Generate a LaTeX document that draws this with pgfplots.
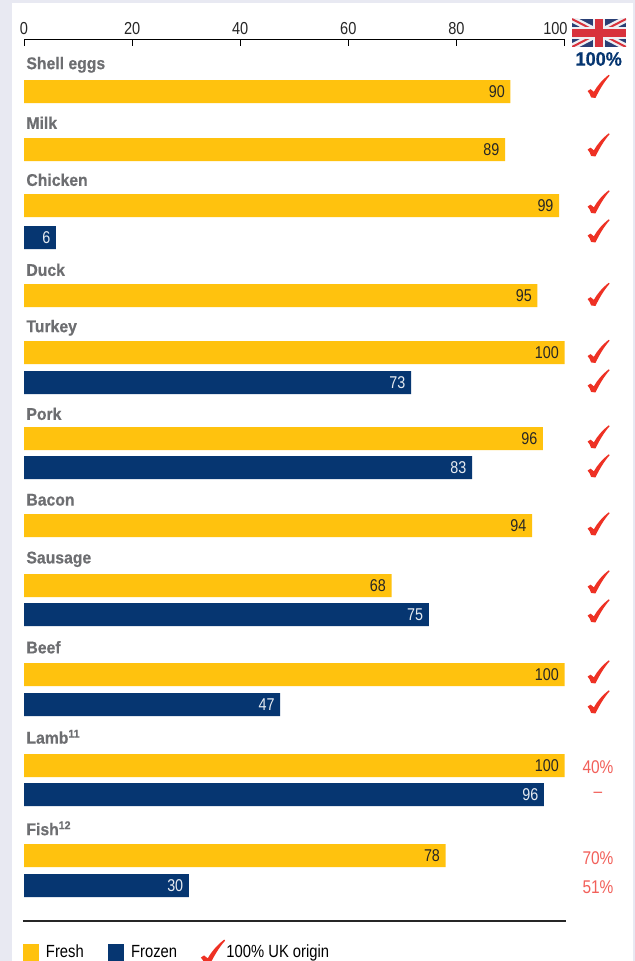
\documentclass[border=0pt]{standalone}
\usepackage{pgfplots}
\usepackage{pgfplotstable}
\usepackage{fontspec}
\pgfplotsset{compat=1.18}
\setmainfont[FakeStretch=0.84]{Liberation Sans}
\newfontfamily\catf[FakeStretch=0.93,BoldFeatures={FakeBold=0.5}]{Liberation Sans}
\definecolor{ukyellow}{HTML}{FFC20E}
\definecolor{ukblue}{HTML}{063671}
\definecolor{ukred}{HTML}{EE3124}
\definecolor{pctred}{HTML}{F2605A}
\definecolor{catgray}{HTML}{6D6E71}
\definecolor{pagebg}{HTML}{E8E9F2}
\definecolor{flagred}{HTML}{D8323C}
\definecolor{flagblue}{HTML}{2A3F75}
\pgfdeclareplotmark{ukcheck}{%
  \pgfpathmoveto{\pgfqpoint{-7.8pt}{-3.4pt}}%
  \pgfpathlineto{\pgfqpoint{-5.6pt}{-2pt}}%
  \pgfpathlineto{\pgfqpoint{-3.1pt}{-4.0pt}}%
  \pgfpathcurveto{\pgfqpoint{-0.6pt}{0.6pt}}{\pgfqpoint{3.2pt}{5pt}}{\pgfqpoint{8.1pt}{8.8pt}}%
  \pgfpathlineto{\pgfqpoint{8.7pt}{8.1pt}}%
  \pgfpathcurveto{\pgfqpoint{4.6pt}{3.5pt}}{\pgfqpoint{1pt}{-2.6pt}}{\pgfqpoint{-1.9pt}{-8.6pt}}%
  \pgfpathlineto{\pgfqpoint{-5.2pt}{-8.2pt}}%
  \pgfpathcurveto{\pgfqpoint{-5.8pt}{-6.2pt}}{\pgfqpoint{-6.6pt}{-4.6pt}}{\pgfqpoint{-7.8pt}{-3.4pt}}%
  \pgfpathclose\pgfusepathqfill}
\pgfplotstableread{
value y
90 91.5
89 149.5
99 205.5
95 295.5
100 352.5
96 438.5
94 525.5
68 585.5
100 674.5
100 765.5
78 855.5
}\freshdata
\pgfplotstableread{
value len y
6 5.9 237.5
73 71.6 382.5
83 82.9 467.5
75 74.9 614.5
47 47.4 704.5
96 96.2 794.5
30 30.5 885.5
}\frozendata
\newcommand{\catlabel}[2]{\node[anchor=west,inner sep=0pt,text=catgray,font=\catf\bfseries\fontsize{12.7}{14}\selectfont] at (axis cs:0.4,#2) {#1};}
\newcommand{\pctlabel}[2]{\node[inner sep=0pt,text=pctred,font=\fontsize{13.8}{15}\selectfont] at (axis cs:106.2,#2) {#1};}
\newcommand{\sps}[1]{\raisebox{4.5pt}{\fontsize{8.5}{9}\selectfont #1}}
\begin{document}
\begin{tikzpicture}[x=0.75pt,y=0.75pt]
\fill[pagebg] (0,0) rectangle (635,961);
\fill[white] (12,0) rectangle (633,958);
\begin{axis}[
  at={(18pt,691.125pt)},anchor=north west,
  scale only axis,width=405.375pt,height=661.125pt,
  xmin=0,xmax=100,ymin=39.5,ymax=921,y dir=reverse,
  clip=false,
  axis x line=top,axis y line=none,
  axis line style={-,black,line width=0.75pt},
  xtick={0,20,40,60,80},
  extra x ticks={100},
  extra x tick style={xticklabel style={xshift=-6.8pt}},
  tick align=inside,
  major tick length=5pt,
  tick style={black,line width=0.6pt},
  xticklabel style={font=\fontsize{13}{14}\selectfont,text=black!85},
  /pgf/number format/assume math mode=true,
  xbar,bar width=17.25pt,bar shift=0pt,
  nodes near coords,
  nodes near coords style={font=\fontsize{12.8}{14}\selectfont,anchor=east,xshift=-0.7pt,/pgf/number format/assume math mode=true},
  legend style={draw=none,fill=none,at={(axis cs:-0.2,952.5)},anchor=west,
    legend columns=3,font=\fontsize{13.2}{15}\selectfont,inner sep=0pt,
    /tikz/every odd column/.append style={column sep=3.1pt},
    /tikz/every even column/.append style={column sep=16.4pt}},
  legend cell align=left,
]
\addplot[fill=ukyellow,draw=none,every node near coord/.append style={text=black!85},
  legend image code/.code={\fill[ukyellow] (0pt,-6.75pt) rectangle (12pt,6.75pt);}]
  table[x=value,y=y]{\freshdata};
\addlegendentry{Fresh}
\addplot[fill=ukblue,draw=none,point meta=explicit,every node near coord/.append style={text=white!90!ukblue},
  legend image code/.code={\fill[ukblue] (0pt,-6.75pt) rectangle (12pt,6.75pt);}]
  table[x=len,y=y,meta=value]{\frozendata};
\addlegendentry{Frozen}
\addplot[forget plot,only marks,mark=ukcheck,color=ukred,mark options={fill=ukred,draw=none},nodes near coords={}] coordinates {
(106.2,86.5)(106.2,145)(106.2,202)(106.2,231)(106.2,294.5)(106.2,351.5)(106.2,381)(106.2,437)(106.2,466)(106.2,524)(106.2,582)(106.2,611)(106.2,672)(106.2,702)};
\addlegendimage{draw=none,legend image code/.code={%
  \path[draw=none,fill=none] (0pt,-6.75pt) rectangle (13.5pt,6.75pt);
  \pgfinterruptboundingbox
  \begin{scope}[shift={(8pt,0pt)},scale=1.1]
  \pgfsetfillcolor{ukred}\pgfuseplotmark{ukcheck}
  \end{scope}
  \endpgfinterruptboundingbox}}
\addlegendentry{100\% UK origin}
\catlabel{Shell eggs}{64.8}
\catlabel{Milk}{122.8}
\catlabel{Chicken}{179.8}
\catlabel{Duck}{269.8}
\catlabel{Turkey}{327.8}
\catlabel{Pork}{413.8}
\catlabel{Bacon}{499.8}
\catlabel{Sausage}{559.3}
\catlabel{Beef}{647.3}
\catlabel{Lamb\sps{11}}{736.8}
\catlabel{Fish\sps{12}}{828.3}
\pctlabel{40\%}{767}
\pctlabel{--}{795}
\pctlabel{70\%}{858}
\pctlabel{51\%}{887}
\draw[black!85,line width=0.85pt] (axis cs:-0.2,921) -- (axis cs:100.2,921);
\end{axis}
\begin{scope}[x=0.75pt,y=-0.75pt,yshift=720.75pt]
  \clip (572,19) rectangle (626,47);
  \fill[flagblue] (572,19) rectangle (626,47);
  \draw[white!92!flagblue,line width=5pt] (572,19)--(626,47) (572,47)--(626,19);
  \draw[flagred,line width=1.5pt] (572,19)--(626,47) (572,47)--(626,19);
  \draw[white!92!flagblue,line width=8.5pt] (599,19)--(599,47) (572,33)--(626,33);
  \draw[flagred,line width=5.8pt] (599,19)--(599,47) (572,33)--(626,33);
\end{scope}
\node[text=ukblue,inner sep=0pt,font=\catf\bfseries\fontsize{14.6}{16}\selectfont] at (598.7,902) {100\%};
\pgfresetboundingbox
\path[use as bounding box] (0,0) rectangle (635,961);
\end{tikzpicture}
\end{document}
